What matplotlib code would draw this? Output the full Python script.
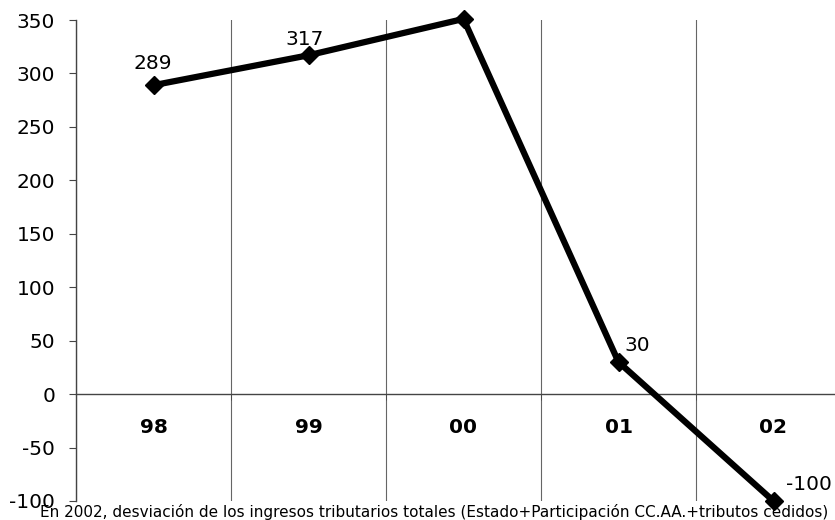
import matplotlib
matplotlib.use("Agg")
import matplotlib.pyplot as plt
import numpy as np

categories = ["98", "99", "00", "01", "02"]
values = [289, 317, 351, 30, -100]
label_offsets = [(-1, 22), (-4, 16), (29, -8), (19, 17), (35, 17)]
yticks = [-100, -50, 0, 50, 100, 150, 200, 250, 300, 350]
footnote = "En 2002, desviación de los ingresos tributarios totales (Estado+Participación CC.AA.+tributos cedidos)"

plt.rcParams['font.family'] = ['DejaVu Sans']

fig = plt.figure(figsize=(8.35, 5.2), dpi=100)
ax = fig.add_axes([76/835, 19/520, 775/835, 481/520])

x = np.arange(len(categories))
ax.plot(x, values, color='black', lw=4.5, marker='D', markersize=9, zorder=5,
        solid_joinstyle='miter', clip_on=False)

for xi, v, (dx, dy) in zip(x, values, label_offsets):
    ax.annotate(str(v), (xi, v), xytext=(dx, dy), textcoords='offset pixels',
                ha='center', va='center', fontsize=14.5, zorder=6)

ax.set_xlim(-0.5, 4.5)
ax.set_ylim(-100, 350)
ax.set_yticks(yticks)
ax.set_yticklabels([str(t) for t in yticks], fontsize=14.5)

ax.spines['top'].set_visible(False)
ax.spines['right'].set_visible(False)
ax.spines['bottom'].set_position(('data', 0))
ax.spines['bottom'].set_color('#444444')
ax.spines['left'].set_color('#444444')
ax.spines['bottom'].set_linewidth(1.0)
ax.spines['left'].set_linewidth(1.0)

ax.set_xticks(x)
ax.set_xticklabels(categories, fontsize=14.5, fontweight='bold')
ax.tick_params(axis='x', which='major', length=0, pad=17)
ax.set_xticks(np.arange(-0.5, 5.0, 1.0), minor=True)
ax.tick_params(axis='x', which='minor', length=4, direction='out', color='#444444')
ax.tick_params(axis='y', length=5, direction='out', color='#444444', pad=10)
ax.grid(which='minor', axis='x', color='#666666', lw=0.8)
ax.set_axisbelow(True)

fig.text(40/835, 0/520, footnote, fontsize=11, ha='left', va='bottom')

fig.savefig("out.png", dpi=100)
